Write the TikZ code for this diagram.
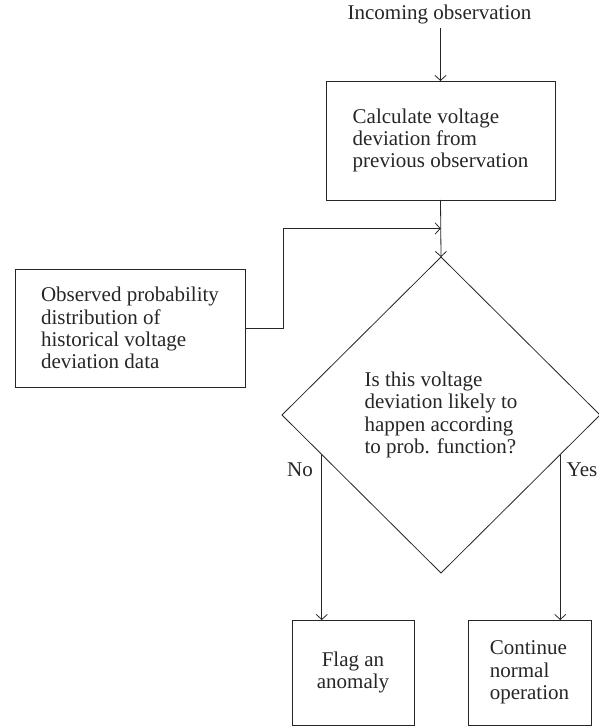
\documentclass[tikz,border=0pt]{standalone}
\usepackage{fontspec}
\setmainfont{Liberation Serif}
\usetikzlibrary{shapes.geometric,arrows.meta,calc}
\begin{document}
\begin{tikzpicture}[x=1pt,y=-1pt,
  every node/.style={font=\fontsize{21}{22.3}\selectfont, text=black!85},
  box/.style={draw=black!85, line width=0.8pt, inner sep=0pt, outer sep=0pt, align=left},
  conn/.style={draw=black!85, line width=0.8pt, -{Straight Barb[length=5pt,width=11pt]}},
  lbl/.style={inner sep=0pt}
  ]
\useasboundingbox (0,0) rectangle (598,727);
\node[lbl] (inc) at (439.5,14) {Incoming observation};
\node[box, minimum width=229pt, minimum height=119pt] (calc) at (440.5,140.5) {Calculate voltage\\deviation from\\previous observation};
\node[box, minimum width=230pt, minimum height=118pt] (obs) at (130,328) {Observed probability\\distribution of\\historical voltage\\deviation data};
\node[box, shape=diamond, minimum width=318pt, minimum height=316pt] (dia) at (441,415) {Is this voltage\\deviation likely to\\happen according\\to prob. function?};
\node[box, align=center, minimum width=122pt, minimum height=105pt] (flag) at (353,672.5) {Flag an\\anomaly};
\node[box, minimum width=123pt, minimum height=105pt] (cont) at (529.5,672.5) {Continue\\normal\\operation};
\node[lbl] (no) at (300,470) {No};
\node[lbl] (yes) at (582,470) {Yes};
\coordinate (top) at ($(inc.south -| calc.north)+(0,4)$);
\draw[conn] (top) -- (calc.north);
\draw[conn] (calc.south) -- (dia.north);
\coordinate (j) at ($(calc.south)!0.5!(dia.north)$);
\draw[conn] (obs.east) -- ++(38,0) |- (j);
\coordinate (nostart) at ($(dia.west)!0.25!(dia.south)$);
\coordinate (yesstart) at ($(dia.east)!0.25!(dia.south)$);
\draw[conn] (nostart) -- (nostart |- flag.north);
\draw[conn] (yesstart) -- (yesstart |- cont.north);
\end{tikzpicture}
\end{document}
